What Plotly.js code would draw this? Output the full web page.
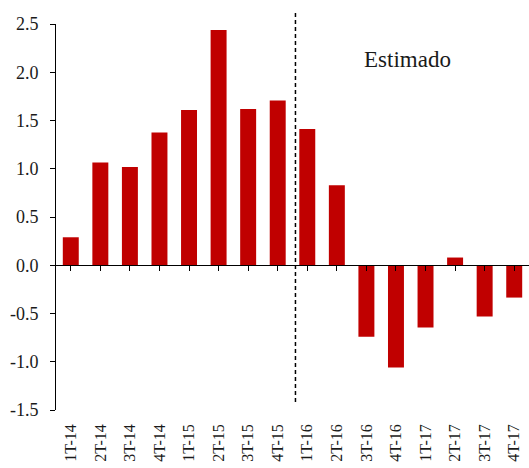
<!DOCTYPE html>
<html>
<head>
<meta charset="utf-8">
<script src="https://cdn.plot.ly/plotly-3.0.1.min.js"></script>
<style>html,body{margin:0;padding:0;background:#fff;}#chart{width:529px;height:468px;}</style>
</head>
<body>
<div id="chart"></div>
<script>
const categories = ["1T-14","2T-14","3T-14","4T-14","1T-15","2T-15","3T-15","4T-15",
                    "1T-16","2T-16","3T-16","4T-16","1T-17","2T-17","3T-17","4T-17"];
const values = [0.29, 1.065, 1.017, 1.376, 1.608, 2.438, 1.618, 1.708,
                1.411, 0.83, -0.74, -1.06, -0.646, 0.08, -0.53, -0.335];
const yTicks = [-1.5, -1.0, -0.5, 0.0, 0.5, 1.0, 1.5, 2.0, 2.5];
const yTickText = yTicks.map(v => v.toFixed(1));
const estimateLabel = "Estimado";

const serif = 'Liberation Serif';

const traces = [
  {type: 'bar', x: categories, y: values, xaxis: 'x', yaxis: 'y',
   marker: {color: '#C00000', line: {width: 0}}, width: 0.54, hoverinfo: 'skip'},
  {type: 'bar', x: categories, y: values, xaxis: 'x2', yaxis: 'y',
   marker: {color: 'rgba(0,0,0,0)'}, width: 0.54, hoverinfo: 'skip', showlegend: false}
];

const layout = {
  width: 529, height: 468,
  margin: {l: 56, r: 0, t: 24, b: 58},
  paper_bgcolor: '#fff', plot_bgcolor: '#fff',
  showlegend: false,
  font: {family: serif, size: 17, color: '#1a1a1a'},
  xaxis: {
    type: 'category', range: [-0.5, 15.5], showgrid: false, zeroline: false,
    showline: false, ticks: '', tickangle: -90, ticklabelstandoff: 10,
    tickfont: {family: serif, size: 16, color: '#1a1a1a'},
    fixedrange: true
  },
  xaxis2: {
    type: 'category', range: [-0.5, 15.5], overlaying: 'x', anchor: 'free', position: 0.375,
    side: 'bottom', showgrid: false, zeroline: false, showline: true, linecolor: '#000', linewidth: 1,
    ticks: 'outside', ticklen: 5, tickwidth: 1, tickcolor: '#000', showticklabels: false,
    fixedrange: true
  },
  yaxis: {
    range: [-1.5, 2.5], tickvals: yTicks, ticktext: yTickText, showgrid: false, zeroline: false,
    showline: true, linecolor: '#000', linewidth: 1, ticks: 'outside', ticklen: 5, tickwidth: 1,
    tickcolor: '#000', ticklabelstandoff: 8, tickfont: {family: serif, size: 18, color: '#1a1a1a'}, fixedrange: true
  },
  shapes: [
    {type: 'line', xref: 'x', yref: 'paper', x0: 7.6, x1: 7.6, y0: 0.021, y1: 1.031,
     line: {color: '#000', width: 1.5, dash: '4px,3px'}}
  ],
  annotations: [
    {text: estimateLabel, xref: 'paper', yref: 'paper', x: 0.744, y: 0.907,
     xanchor: 'center', yanchor: 'middle',
     showarrow: false, font: {family: serif, size: 23, color: '#1a1a1a'}}
  ]
};

Plotly.newPlot('chart', traces, layout, {displayModeBar: false, staticPlot: true});
</script>
</body>
</html>
